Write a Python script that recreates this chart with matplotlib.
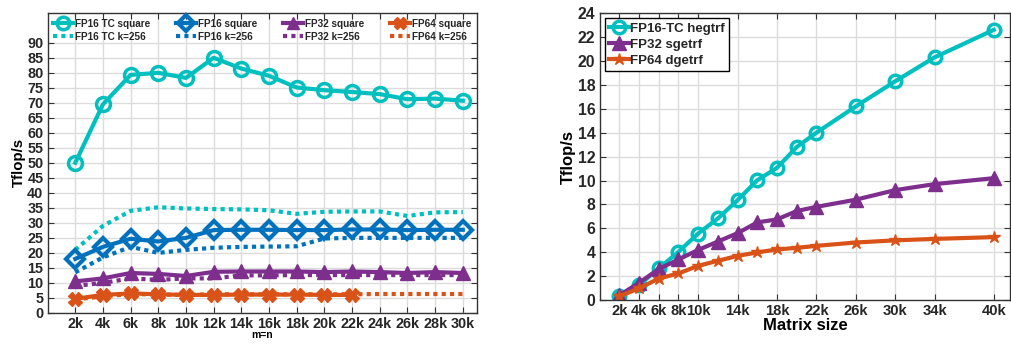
import matplotlib

matplotlib.use("Agg")
import matplotlib.pyplot as plt  # noqa: E402

plt.rcParams["font.family"] = ["Liberation Sans", "DejaVu Sans"]
plt.rcParams["font.weight"] = "bold"
plt.rcParams["text.color"] = "#262626"
plt.rcParams["xtick.labelcolor"] = "#262626"
plt.rcParams["ytick.labelcolor"] = "#262626"

TEAL = "#00BFBF"
BLUE = "#0072BD"
PURPLE = "#7E2F8E"
ORANGE = "#D95319"

# GEMM throughput, m=n in thousands
GEMM_SIZES = [2, 4, 6, 8, 10, 12, 14, 16, 18, 20, 22, 24, 26, 28, 30]
FP16TC_SQUARE = [50.0, 69.5, 79.3, 80.0, 78.3, 85.0, 81.4, 79.0, 75.1, 74.2, 73.6, 72.9, 71.2, 71.4, 70.7]
FP16TC_K256 = [21.0, 29.0, 34.0, 35.2, 34.8, 34.6, 34.5, 34.2, 33.0, 33.7, 33.8, 33.8, 32.3, 33.5, 33.6]
FP16_SQUARE = [18.0, 22.0, 24.7, 23.8, 25.0, 27.6, 27.7, 27.7, 27.6, 27.6, 27.8, 27.8, 27.6, 27.7, 27.7]
FP16_K256 = [13.5, 18.5, 22.0, 20.0, 21.0, 21.7, 22.0, 22.1, 22.2, 24.8, 25.0, 25.0, 25.0, 25.0, 25.0]
FP32_SQUARE = [10.5, 11.5, 13.3, 13.0, 12.3, 13.7, 13.8, 13.8, 13.8, 13.6, 13.8, 13.6, 13.3, 13.6, 13.3]
FP32_K256 = [9.0, 10.0, 11.5, 11.0, 11.5, 11.5, 12.5, 12.5, 12.6, 12.6, 12.6, 12.6, 12.6, 12.6, 12.6]
FP64_SIZES = [2, 4, 6, 8, 10, 12, 14, 16, 18, 20, 22]
FP64_SQUARE = [4.7, 6.0, 6.5, 6.2, 6.0, 6.0, 6.1, 6.1, 6.1, 6.0, 6.0]
FP64_K256 = [4.5, 5.5, 6.3, 6.1, 6.0, 6.2, 6.2, 6.2, 6.2, 6.2, 6.2, 6.3, 6.3, 6.3, 6.3]
GEMM_TICKS = [f"{s}k" for s in GEMM_SIZES]

# LU factorization throughput
LU_SIZES = [2, 4, 6, 8, 10, 12, 14, 16, 18, 20, 22, 26, 30, 34, 40]
HGETRF = [0.33, 1.25, 2.65, 4.04, 5.57, 6.83, 8.36, 10.03, 11.06, 12.8, 14.0, 16.2, 18.3, 20.3, 22.6]
SGETRF = [0.4, 1.45, 2.6, 3.4, 4.2, 4.9, 5.6, 6.5, 6.75, 7.45, 7.8, 8.4, 9.2, 9.7, 10.2]
DGETRF = [0.33, 0.98, 1.81, 2.23, 2.87, 3.29, 3.7, 3.99, 4.24, 4.37, 4.54, 4.82, 5.0, 5.12, 5.27]
LU_TICK_SIZES = [2, 4, 6, 8, 10, 14, 18, 22, 26, 30, 34, 40]
LU_TICKS = [f"{s}k" for s in LU_TICK_SIZES]


def style_axes(ax):
    ax.grid(True, color="#dcdcdc", linewidth=1.0)
    ax.set_axisbelow(True)
    ax.tick_params(direction="in", top=True, right=True, length=4, color="#333333", pad=3)
    for spine in ax.spines.values():
        spine.set_color("#333333")
        spine.set_linewidth(1.0)


fig = plt.figure(figsize=(10.12, 3.45), dpi=100)
ax_l = fig.add_axes([0.047, 0.093, 0.424, 0.87])
ax_r = fig.add_axes([0.5925, 0.130, 0.406, 0.832])

dot = (0, (1, 1))
lw = 3.0
h1, = ax_l.plot(GEMM_SIZES, FP16TC_SQUARE, color=TEAL, lw=lw, marker="o", ms=10,
                mfc="none", mew=2.5, label="FP16 TC square")
h2, = ax_l.plot(GEMM_SIZES, FP16TC_K256, color=TEAL, lw=lw, ls=dot, label="FP16 TC k=256")
h3, = ax_l.plot(GEMM_SIZES, FP16_SQUARE, color=BLUE, lw=lw, marker="D", ms=9,
                mfc="none", mew=3, label="FP16 square")
h4, = ax_l.plot(GEMM_SIZES, FP16_K256, color=BLUE, lw=lw, ls=dot, label="FP16 k=256")
h5, = ax_l.plot(GEMM_SIZES, FP32_SQUARE, color=PURPLE, lw=lw, marker="^", ms=10,
                label="FP32 square")
h6, = ax_l.plot(GEMM_SIZES, FP32_K256, color=PURPLE, lw=lw, ls=dot, label="FP32 k=256")
h7, = ax_l.plot(FP64_SIZES, FP64_SQUARE, color=ORANGE, lw=lw, marker="X", ms=10,
                label="FP64 square")
h8, = ax_l.plot(GEMM_SIZES, FP64_K256, color=ORANGE, lw=lw, ls=dot, label="FP64 k=256")

ax_l.set_xlim(0, 31)
ax_l.set_ylim(0, 100)
ax_l.set_xticks(GEMM_SIZES)
ax_l.set_xticklabels(GEMM_TICKS, fontsize=10.4, fontweight="bold")
ax_l.set_yticks(range(0, 91, 5))
ax_l.set_yticklabels([str(v) for v in range(0, 91, 5)], fontsize=10.4, fontweight="bold")
ax_l.set_xlabel("m=n", fontsize=7.5, fontweight="bold", labelpad=-1)
ax_l.set_ylabel("Tflop/s", fontsize=10.8, fontweight="bold", labelpad=1)
style_axes(ax_l)
ax_l.legend(handles=[h1, h2, h3, h4, h5, h6, h7, h8], ncol=4, loc="upper center",
            frameon=False, prop={"size": 7.2, "weight": "bold"}, handlelength=2.0,
            handletextpad=0.2, columnspacing=2.6, labelspacing=0.3,
            borderaxespad=0.2, markerscale=0.9)

ax_r.plot(LU_SIZES, HGETRF, color=TEAL, lw=3, marker="o", ms=9, mfc="none", mew=2.5,
          label="FP16-TC hegtrf")
ax_r.plot(LU_SIZES, SGETRF, color=PURPLE, lw=3, marker="^", ms=10, label="FP32 sgetrf")
ax_r.plot(LU_SIZES, DGETRF, color=ORANGE, lw=3, marker="*", ms=9, label="FP64 dgetrf")
ax_r.set_xlim(0, 41.7)
ax_r.set_ylim(0, 24)
ax_r.set_xticks(LU_TICK_SIZES)
ax_r.set_xticklabels(LU_TICKS, fontsize=10.6, fontweight="bold")
ax_r.set_yticks(range(0, 25, 2))
ax_r.set_yticklabels([str(v) for v in range(0, 25, 2)], fontsize=11.3, fontweight="bold")
ax_r.set_xlabel("Matrix size", fontsize=12, fontweight="bold", labelpad=0)
ax_r.set_ylabel("Tflop/s", fontsize=12, fontweight="bold", labelpad=1)
style_axes(ax_r)
leg = ax_r.legend(loc="upper left", prop={"size": 9.5, "weight": "bold"},
                  fancybox=False, edgecolor="black", framealpha=1, handlelength=1.5,
                  handletextpad=0.1, labelspacing=0.3, borderpad=0.3, borderaxespad=0.4)
leg.get_frame().set_linewidth(1.0)

fig.savefig("out.png", dpi=100)
